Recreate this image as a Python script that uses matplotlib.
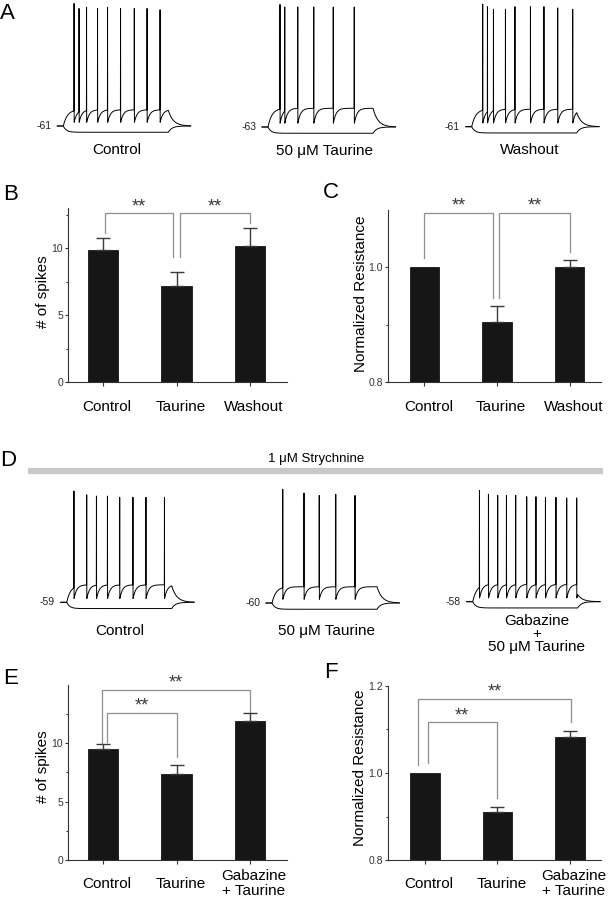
import numpy as np
import matplotlib
matplotlib.use('Agg')
import matplotlib.pyplot as plt
from matplotlib.lines import Line2D
from matplotlib.transforms import ScaledTranslation

plt.rcParams['font.family'] = ['Liberation Sans', 'DejaVu Sans']

# ---------------- data ----------------
condsBC = ['Control', 'Taurine', 'Washout']
condsEF = ['Control', 'Taurine', 'Gabazine\n+ Taurine']

spikesB = [9.85, 7.15, 10.15]
spikesBErr = [0.90, 1.05, 1.35]
resistC = [1.0, 0.904, 1.0]
resistCErr = [0.0, 0.028, 0.013]
spikesE = [9.5, 7.35, 11.85]
spikesEErr = [0.43, 0.77, 0.68]
resistF = [1.0, 0.910, 1.083]
resistFErr = [0.0, 0.012, 0.014]

# significance brackets: (left x, right x, top, left leg end, right leg end)
bracketsB = [(0.03, 0.95, 12.6, 11.1, 9.33), (1.05, 2.0, 12.6, 9.33, 11.9)]
bracketsC = [(0.0, 0.945, 1.094, 1.016, 0.946), (1.03, 2.0, 1.094, 0.946, 1.026)]
bracketsE = [(-0.02, 2.0, 14.53, 10.0, 12.65), (0.06, 1.0, 12.56, 10.08, 8.8)]
bracketsF = [(-0.09, 2.01, 1.170, 1.018, 1.117), (0.04, 0.99, 1.117, 1.023, 0.943)]

# current clamp traces: spike times in ms after step onset, peaks in mV
traceLabelsA = ['Control', '50 μM Taurine', 'Washout']
restA = [-61, -63, -61]
spikeTimesA = [[43, 63, 93, 137, 177, 229, 284, 335, 387],
               [48, 67, 119, 183, 261, 345],
               [44, 63, 87, 135, 173, 235, 289, 344, 404]]
spikePeaksA = [[37, 33, 34, 33, 34, 33, 33, 33, 32],
               [35, 33, 33, 33, 33, 33],
               [37, 35, 33, 33, 35, 35, 35, 34, 33]]
plateauA = [13, 15, 14]

traceLabelsD = ['Control', '50 μM Taurine', ['Gabazine', '+', '50 μM Taurine']]
restD = [-59, -60, -58]
spikeTimesD = [[29, 80, 119, 163, 212, 265, 317, 391],
               [43, 128, 189, 255, 332],
               [27, 63, 100, 135, 172, 216, 253, 291, 333, 376, 416]]
spikePeaksD = [[30, 27, 26, 26, 25, 25, 25, 25],
               [31, 28, 26, 27, 26],
               [31, 28, 27, 27, 27, 26, 26, 25.5, 25.5, 25, 25]]
plateauD = [14, 13, 14]

STEP_OFF = 420.0
HYPER = 5.0

# ---------------- layout ----------------
W, H = 612, 899
MS_PER_PX = 4.0
MV_PER_PX = 0.8
traceOriginsA = [(63.3, 126.0), (268.0, 127.0), (471.7, 126.7)]
traceOriginsD = [(66.7, 602.3), (272.0, 603.0), (472.7, 601.7)]

fig = plt.figure(figsize=(W / 100, H / 100), dpi=100)


def membrane(t, rest, spkT, spkV, plateau, ahp=2.5, tauOn=16., tauRec=11., tauOff=20.):
    spkT = np.asarray(spkT, float)
    dv = np.zeros_like(t)
    step = (t >= 0) & (t < STEP_OFF)
    last = np.searchsorted(spkT, t, side='right') - 1
    tt = t[step]
    ll = last[step]
    noSpk = ll < 0
    d = np.empty_like(tt)
    d[noSpk] = plateau * (1 - np.exp(-tt[noSpk] / tauOn))
    since = tt[~noSpk] - spkT[ll[~noSpk]]
    d[~noSpk] = plateau - (plateau - ahp) * np.exp(-since / tauRec)
    dv[step] = d
    after = t >= STEP_OFF
    dv[after] = d[-1] * np.exp(-(t[after] - STEP_OFF) / tauOff)
    v = rest + dv
    v[np.searchsorted(t, spkT)] = spkV
    return v


def hyperpol(t, rest, tau=12., tauOff=15.):
    dv = np.zeros_like(t)
    step = (t >= 0) & (t < STEP_OFF)
    dv[step] = -HYPER * (1 - np.exp(-t[step] / tau))
    after = t >= STEP_OFF
    dv[after] = dv[step][-1] * np.exp(-(t[after] - STEP_OFF) / tauOff)
    return rest + dv


def trace_axes(xOn, base, rest):
    left, top = xOn - 40, base - 130
    ax = fig.add_axes([left / W, 1 - (top + 145) / H, 180 / W, 145 / H])
    ax.set_xlim(-40 * MS_PER_PX, 140 * MS_PER_PX)
    ax.set_ylim(rest - 15 * MV_PER_PX, rest + 130 * MV_PER_PX)
    ax.set_axis_off()
    return ax


def draw_trace(origin, rest, spkT, spkV, plateau):
    ax = trace_axes(origin[0], origin[1], rest)
    t = np.arange(-24, 510, 0.5)
    ax.plot(t, membrane(t, rest, spkT, spkV, plateau), color='k', lw=0.7)
    ax.plot(t, hyperpol(t, rest), color='k', lw=0.7)
    ax.annotate(str(rest), (t[0], rest), xytext=(-4, 0), textcoords='offset points',
                ha='right', va='center', fontsize=7.5, color='#222')
    return ax


# panel A
labelTA = [215, 224, 233]
for i in range(3):
    ax = draw_trace(traceOriginsA[i], restA[i], spikeTimesA[i], spikePeaksA[i], plateauA[i])
    ax.annotate(traceLabelsA[i], (labelTA[i], restA[i]), xytext=(0, -17), textcoords='offset points',
                ha='center', va='center', fontsize=11)

# panel D
labelTD = [213, 220, 256]
for i in range(3):
    ax = draw_trace(traceOriginsD[i], restD[i], spikeTimesD[i], spikePeaksD[i], plateauD[i])
    lab = traceLabelsD[i]
    if isinstance(lab, list):
        for txt, dy in zip(lab, [-13.9, -23.6, -32.6]):
            ax.annotate(txt, (labelTD[i], restD[i]), xytext=(0, dy), textcoords='offset points',
                        ha='center', va='center', fontsize=11)
    else:
        ax.annotate(lab, (labelTD[i], restD[i]), xytext=(0, -20.5), textcoords='offset points',
                    ha='center', va='center', fontsize=11)

fig.add_artist(Line2D([28 / W, 603 / W], [1 - 471 / H, 1 - 471 / H], lw=4.5,
                      color='#c8c8c8', solid_capstyle='butt'))
fig.text(316 / W, 1 - 459 / H, '1 μM Strychnine', ha='center', va='center', fontsize=9.5)


def bar_panel(rectPx, xlim, vals, errs, ylim, yticks, yticklabels, yminor, cats, ylabel,
              ylabelPos, brackets, labelPad):
    l, t, r, b = rectPx
    ax = fig.add_axes([l / W, 1 - b / H, (r - l) / W, (b - t) / H])
    x = np.arange(len(vals))
    vals = np.asarray(vals)
    errs = np.asarray(errs)
    ax.bar(x, vals, width=0.41, color='#161616', edgecolor='#161616', lw=0.6, zorder=2)
    keep = errs > 0
    ax.errorbar(x[keep], vals[keep], yerr=[np.zeros(keep.sum()), errs[keep]], fmt='none',
                ecolor='#3a3a3a', elinewidth=1.0, capsize=4.7, capthick=1.0, zorder=3)
    ax.set_xlim(*xlim)
    ax.set_ylim(*ylim)
    for s in ['top', 'right']:
        ax.spines[s].set_visible(False)
    for s in ['left', 'bottom']:
        ax.spines[s].set_linewidth(0.8)
        ax.spines[s].set_color('#333333')
    ax.set_yticks(yticks)
    ax.set_yticklabels(yticklabels, fontsize=7.5)
    ax.set_yticks(yminor, minor=True)
    ax.tick_params(axis='y', which='major', direction='out', length=2, width=0.8, pad=1.5,
                   colors='#333333')
    ax.tick_params(axis='y', which='minor', direction='out', length=1.3, width=0.8,
                   colors='#333333')
    ax.set_xticks(x)
    ax.set_xticklabels(cats, fontsize=11, va='center', linespacing=1.05)
    ax.tick_params(axis='x', direction='out', length=3, width=0.8, pad=labelPad, color='#333333')
    shift = ScaledTranslation(0.04, 0, fig.dpi_scale_trans)
    for lab in ax.get_xticklabels():
        lab.set_transform(lab.get_transform() + shift)
    ax.set_ylabel(ylabel, fontsize=11, va='center')
    ax.yaxis.set_label_coords(*ylabelPos)
    for (x1, x2, top, e1, e2) in brackets:
        ax.plot([x1, x1, x2, x2], [e1, top, top, e2], color='#8f8f8f', lw=0.9,
                clip_on=False, zorder=1)
        ax.annotate('**', ((x1 + x2) / 2, top), xytext=(0, 1.5), textcoords='offset points',
                    ha='center', va='baseline', fontsize=13, color='#3a3a3a',
                    annotation_clip=False)
    return ax


bar_panel((68, 208, 287, 382), (-0.476, 2.503), spikesB, spikesBErr, (0, 13), [0, 5, 10],
          ['0', '5', '10'], [2.5, 7.5, 12.5], condsBC, '# of spikes', (-0.114, 0.52),
          bracketsB, 15)
bar_panel((388, 209.5, 601, 382), (-0.503, 2.434), resistC, resistCErr, (0.8, 1.1), [0.8, 1.0],
          ['0.8', '1.0'], [0.9], condsBC, 'Normalized Resistance', (-0.126, 0.51),
          bracketsC, 15)
bar_panel((68, 684.5, 287, 860), (-0.476, 2.503), spikesE, spikesEErr, (0, 15), [0, 5, 10],
          ['0', '5', '10'], [2.5, 7.5, 12.5], condsEF, '# of spikes', (-0.114, 0.53),
          bracketsE, 14)
bar_panel((388, 686, 601, 860), (-0.51, 2.43), resistF, resistFErr, (0.8, 1.2), [0.8, 1.0, 1.2],
          ['0.8', '1.0', '1.2'], [0.9, 1.1], condsEF, 'Normalized Resistance', (-0.13, 0.53),
          bracketsF, 14)

# panel letters
for letter, px, py in [('A', 0, 13.5), ('B', 3, 194), ('C', 323, 193),
                       ('D', 0, 461), ('E', 3, 678), ('F', 324, 672)]:
    fig.text(px / W, 1 - py / H, letter, fontsize=16, ha='left', va='center')

fig.savefig('out.png', dpi=100)
